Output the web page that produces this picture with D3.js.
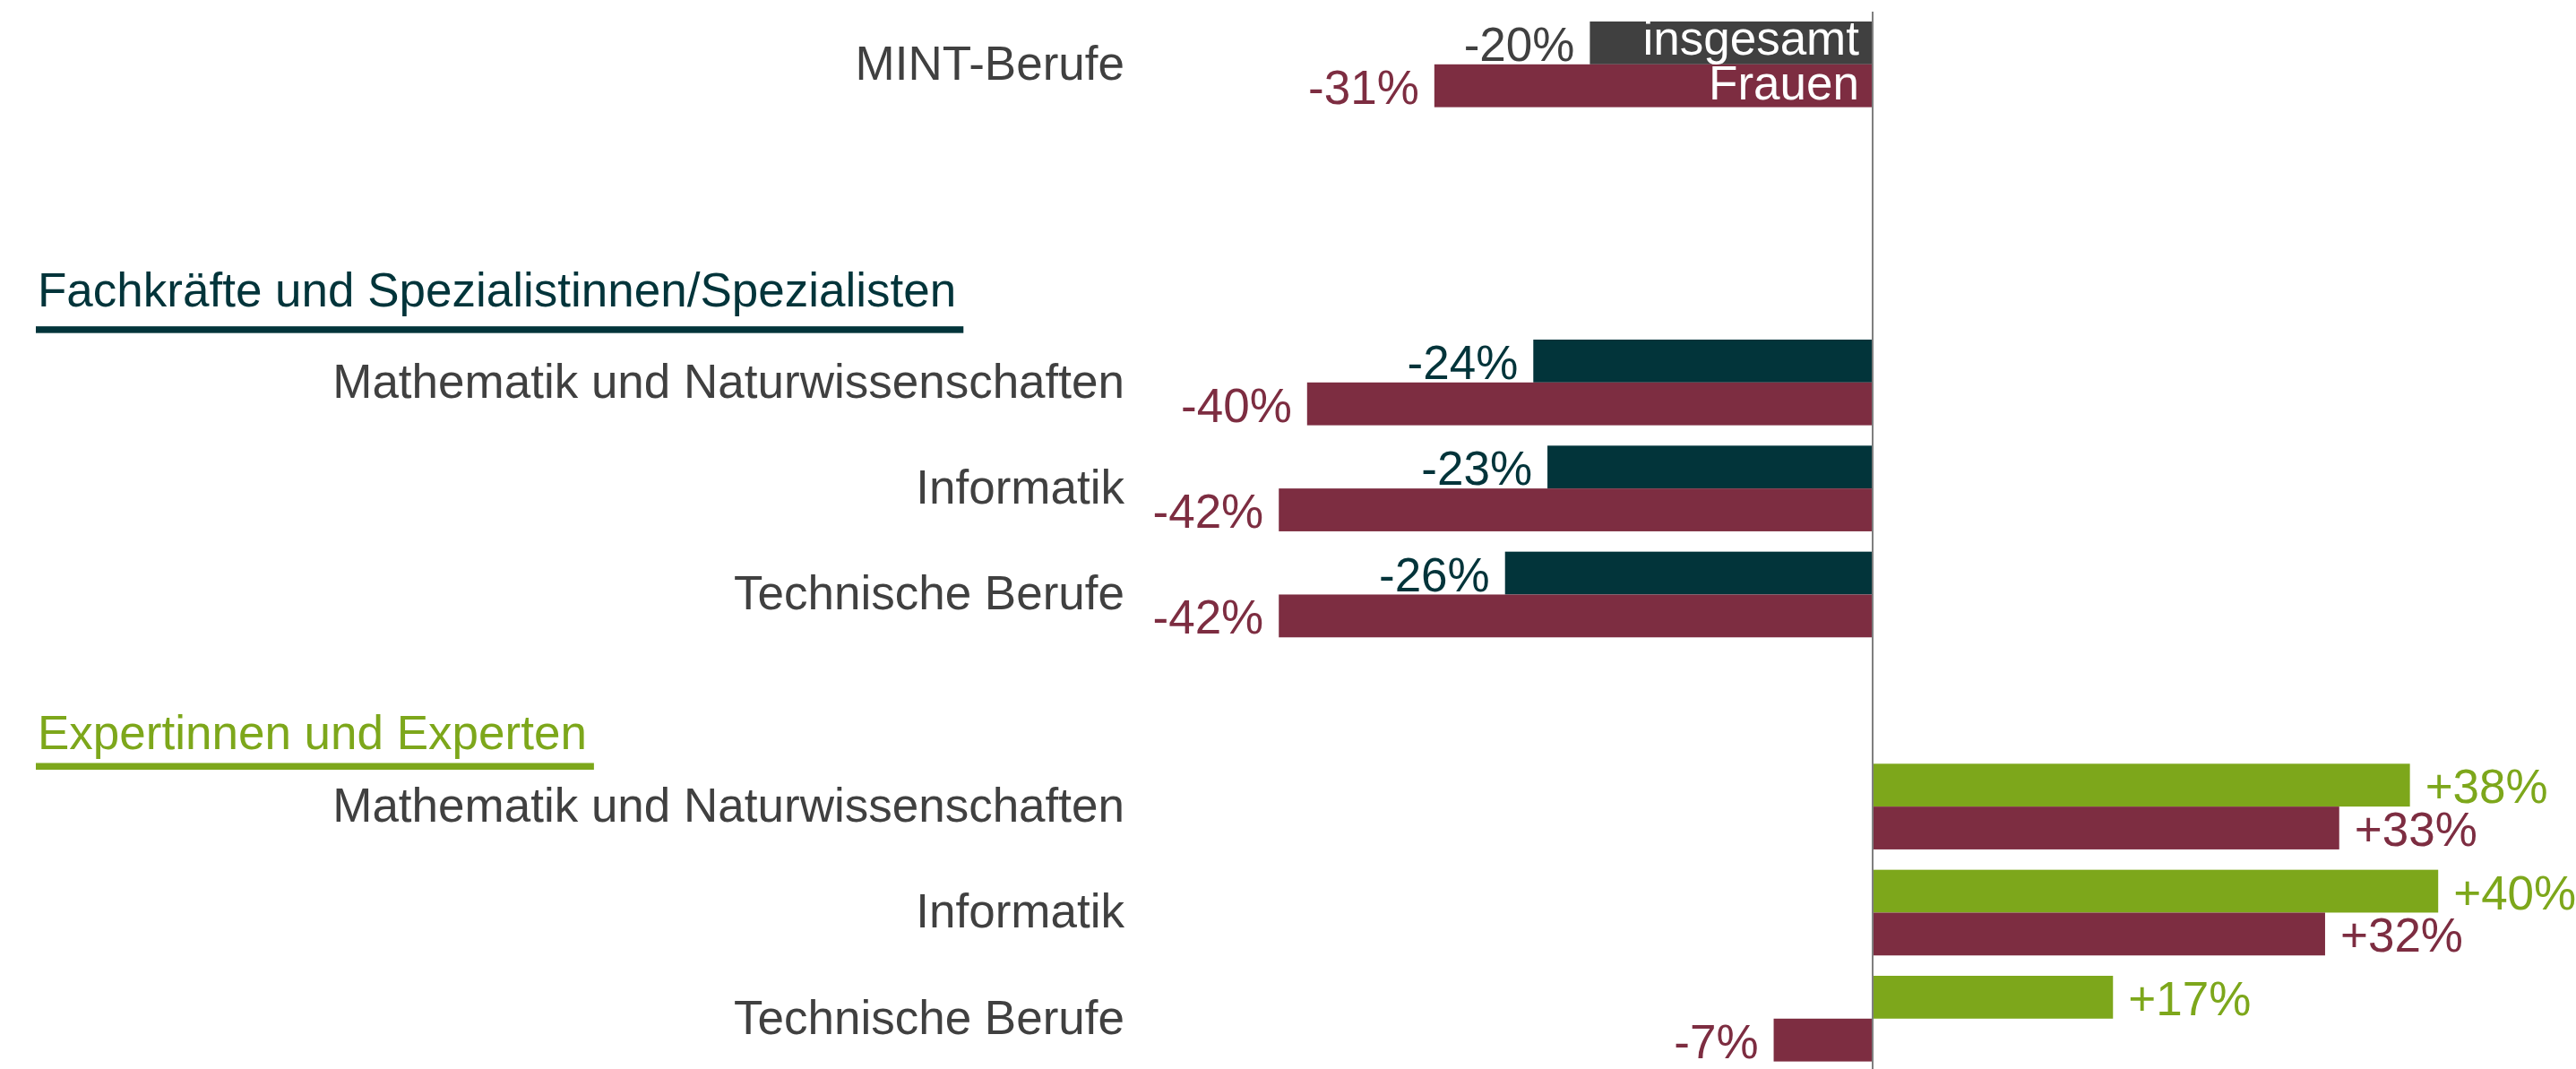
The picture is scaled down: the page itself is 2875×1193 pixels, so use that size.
<!DOCTYPE html>
<html>
<head>
<meta charset="utf-8">
<script src="https://cdn.jsdelivr.net/npm/d3@7"></script>
<style>
  html, body { margin: 0; padding: 0; background: #fff; }
  text { font-family: "Liberation Sans", Arial, sans-serif; }
</style>
</head>
<body>
<div class="chart"></div>
<script>
var svgWidth = 2875;
var svgHeight = 1193;

// rows from top to bottom (blank row = spacer, header rows carry group titles)
var rowLabels = ["MINT-Berufe", "", "Fachkräfte und Spezialistinnen/Spezialisten",
  "Mathematik und Naturwissenschaften", "Informatik", "Technische Berufe",
  "Expertinnen und Experten",
  "Mathematik und Naturwissenschaften", "Informatik", "Technische Berufe"];
var rowKinds = ["mint", "blank", "header", "fach", "fach", "fach", "header", "expert", "expert", "expert"];

var seriesNames = ["insgesamt", "Frauen"];
// change in percent
var totalValues = [-20, null, null, -24, -23, -26, null, 38, 40, 17];
var womenValues = [-31, null, null, -40, -42, -42, null, 33, 32, -7];

var colors = {
  mint: "#404040",
  fach: "#02343a",
  expert: "#7da71b",
  women: "#7d2d41",
  text: "#404040"
};

var svg = d3.select(".chart")
  .append("svg")
  .attr("width", svgWidth)
  .attr("height", svgHeight);

var zeroX = 2090;
var x = d3.scaleLinear()
  .domain([-50, 50])
  .range([zeroX - 789, zeroX + 789]);

var y = d3.scaleBand()
  .domain(d3.range(rowLabels.length))
  .range([24, 1184.6])
  .paddingInner(0.192)
  .paddingOuter(0);

var ySub = d3.scaleBand()
  .domain(seriesNames)
  .range([0, y.bandwidth()]);

var fontSize = 53;
var labelX = 1255;

// bars
rowLabels.forEach(function(label, i) {
  var kind = rowKinds[i];
  if (kind === "blank" || kind === "header") return;

  var pair = [
    { name: "insgesamt", value: totalValues[i], color: colors[kind], legendDy: 13 },
    { name: "Frauen", value: womenValues[i], color: colors.women, legendDy: 15 }
  ];

  var g = svg.append("g")
    .attr("transform", `translate(0, ${y(i)})`);

  g.selectAll("rect")
    .data(pair)
    .enter()
    .append("rect")
    .attr("x", d => Math.min(x(0), x(d.value)))
    .attr("y", d => ySub(d.name))
    .attr("width", d => Math.abs(x(d.value) - x(0)))
    .attr("height", ySub.bandwidth())
    .attr("fill", d => d.color);

  g.selectAll(".valueText")
    .data(pair)
    .enter()
    .append("text")
    .attr("class", "valueText")
    .attr("x", d => d.value < 0 ? x(d.value) - 17 : x(d.value) + 17)
    .attr("y", d => ySub(d.name) + ySub.bandwidth() / 2 + 20)
    .attr("text-anchor", d => d.value < 0 ? "end" : "start")
    .attr("font-size", fontSize + "px")
    .attr("fill", d => d.color)
    .text(d => (d.value > 0 ? "+" : "") + d.value + "%");

  // legend names inside the MINT bars
  if (kind === "mint") {
    g.selectAll(".legendText")
      .data(pair)
      .enter()
      .append("text")
      .attr("class", "legendText")
      .attr("x", x(0) - 15)
      .attr("y", d => ySub(d.name) + ySub.bandwidth() / 2 + d.legendDy)
      .attr("text-anchor", "end")
      .attr("font-size", fontSize + "px")
      .attr("fill", "#ffffff")
      .text(d => d.name);
  }

  // category label
  svg.append("text")
    .attr("x", labelX)
    .attr("y", y(i) + y.bandwidth() / 2 + 17)
    .attr("text-anchor", "end")
    .attr("font-size", fontSize + "px")
    .attr("fill", colors.text)
    .text(label);
});

// group headers with underline
var headerStyle = {
  2: { color: colors.fach, base: 81, line: 103.5 },
  6: { color: colors.expert, base: 102, line: 117.5 }
};

rowLabels.forEach(function(label, i) {
  if (rowKinds[i] !== "header") return;
  var st = headerStyle[i];
  var t = svg.append("text")
    .attr("x", 42)
    .attr("y", y(i) + st.base)
    .attr("font-size", fontSize + "px")
    .attr("fill", st.color)
    .text(label);
  var w = t.node().getComputedTextLength();
  svg.append("rect")
    .attr("x", 40)
    .attr("y", y(i) + st.line)
    .attr("width", w + 10)
    .attr("height", 7.5)
    .attr("fill", st.color);
});

// zero line
svg.append("line")
  .attr("x1", x(0))
  .attr("x2", x(0))
  .attr("y1", 13)
  .attr("y2", svgHeight)
  .attr("stroke", "#7f7f7f")
  .attr("stroke-width", 2);
</script>
</body>
</html>
